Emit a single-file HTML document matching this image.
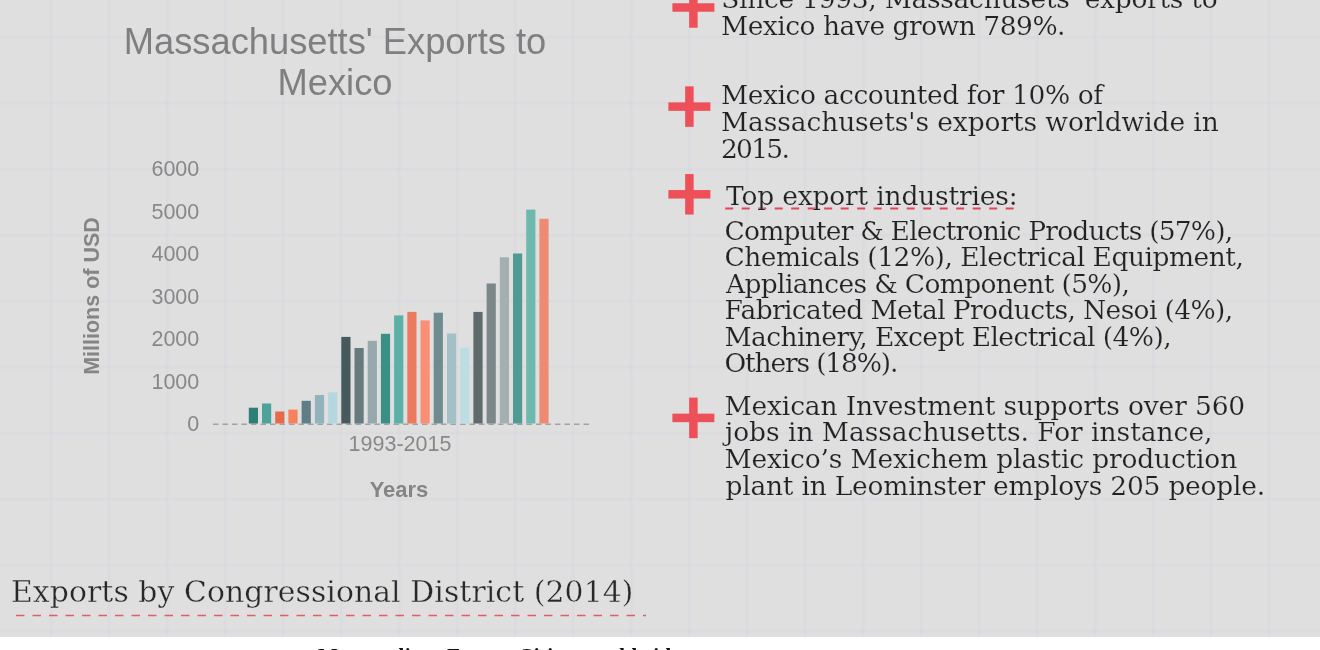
<!DOCTYPE html>
<html><head><meta charset="utf-8"><title>Massachusetts' Exports to Mexico</title>
<style>
html,body{margin:0;padding:0;}
body{width:1320px;height:650px;overflow:hidden;background:#fff;position:relative;font-family:"Liberation Sans",sans-serif;}
#bg{position:absolute;left:0;top:0;width:1320px;height:636.5px;background-color:#dfdfe0;
 background-image:linear-gradient(to right,rgba(200,200,222,0) 0,rgba(200,200,222,0.2) 1.5px,rgba(200,200,222,0.2) 2.5px,rgba(200,200,222,0) 4px,transparent 4px),linear-gradient(to bottom,rgba(200,200,222,0) 0,rgba(200,200,222,0.2) 1.5px,rgba(200,200,222,0.2) 2.5px,rgba(200,200,222,0) 4px,transparent 4px);
 background-size:58px 66px;background-position:49.25px 35.2px;}
svg{position:absolute;left:0;top:0;}
.ln{position:absolute;white-space:nowrap;font-family:"DejaVu Serif","Liberation Serif",serif;font-size:26.5px;line-height:26.5px;color:#222;-webkit-text-stroke:0.2px #dfdfe0;}
.ct{position:absolute;color:#7f7f7f;white-space:nowrap;}
#title{left:85px;width:500px;top:22px;text-align:center;font-size:36.3px;line-height:40.6px;white-space:normal;}
.yl{width:60px;text-align:right;left:139.3px;font-size:21.5px;line-height:24px;color:#888;}
#h2{position:absolute;left:11px;top:574.4px;letter-spacing:0.1px;font-family:"DejaVu Serif","Liberation Serif",serif;font-size:29.8px;line-height:36px;color:#282828;-webkit-text-stroke:0.35px #dfdfe0;white-space:nowrap;}
#foot{position:absolute;left:318px;top:644px;font-family:"Liberation Serif",serif;font-weight:bold;font-size:21px;letter-spacing:0.4px;line-height:24px;color:#111;white-space:nowrap;}
</style></head><body>
<div id="bg"></div>
<svg width="1320" height="650" viewBox="0 0 1320 650">
<line x1="213" y1="424.2" x2="590" y2="424.2" stroke="#a2a2a2" stroke-width="1.6" stroke-dasharray="5.5 4"/>
<rect x="248.8" y="407.7" width="9.2" height="15.8" fill="#2e7f77"/>
<rect x="262.0" y="403.5" width="9.2" height="20.0" fill="#4da39a"/>
<rect x="275.2" y="411.5" width="9.2" height="12.0" fill="#e8694a"/>
<rect x="288.4" y="409.6" width="9.2" height="13.9" fill="#fa7f5c"/>
<rect x="301.6" y="400.8" width="9.2" height="22.7" fill="#5f7d85"/>
<rect x="314.9" y="395.0" width="9.2" height="28.5" fill="#93b3bc"/>
<rect x="328.1" y="392.3" width="9.2" height="31.2" fill="#b5d8e0"/>
<rect x="341.3" y="336.9" width="9.2" height="86.6" fill="#465a5e"/>
<rect x="354.5" y="348.0" width="9.2" height="75.5" fill="#667b7d"/>
<rect x="367.7" y="340.8" width="9.2" height="82.7" fill="#98a8ac"/>
<rect x="380.9" y="333.8" width="9.2" height="89.7" fill="#3a9087"/>
<rect x="394.1" y="315.4" width="9.2" height="108.1" fill="#5cb0a6"/>
<rect x="407.3" y="311.9" width="9.2" height="111.6" fill="#ec7a5e"/>
<rect x="420.5" y="320.4" width="9.2" height="103.1" fill="#fa8f76"/>
<rect x="433.7" y="312.7" width="9.2" height="110.8" fill="#6e8c90"/>
<rect x="447.0" y="333.5" width="9.2" height="90.0" fill="#a3c0c6"/>
<rect x="460.2" y="347.7" width="9.2" height="75.8" fill="#bcdde2"/>
<rect x="473.4" y="311.9" width="9.2" height="111.6" fill="#5e6a6c"/>
<rect x="486.6" y="283.5" width="9.2" height="140.0" fill="#7b8788"/>
<rect x="499.8" y="257.3" width="9.2" height="166.2" fill="#a3afb1"/>
<rect x="513.0" y="253.5" width="9.2" height="170.0" fill="#4f9b94"/>
<rect x="526.2" y="209.6" width="9.2" height="213.9" fill="#6fb8ae"/>
<rect x="539.4" y="218.8" width="9.2" height="204.7" fill="#ef8a72"/>

<rect x="672.4" y="3.25" width="42" height="8.5" fill="#ed5059"/><rect x="689.15" y="-12.75" width="8.5" height="40.5" fill="#ed5059"/>
<rect x="668.4" y="102.35" width="42" height="8.5" fill="#ed5059"/><rect x="685.15" y="86.35" width="8.5" height="40.5" fill="#ed5059"/>
<rect x="668.4" y="190.05" width="42" height="8.5" fill="#ed5059"/><rect x="685.15" y="174.05" width="8.5" height="40.5" fill="#ed5059"/>
<rect x="672.4" y="413.65" width="42" height="8.5" fill="#ed5059"/><rect x="689.15" y="397.65" width="8.5" height="40.5" fill="#ed5059"/>

<line x1="725.2" y1="208.4" x2="1014.5" y2="208.4" stroke="#de4856" stroke-width="2" stroke-dasharray="8 8.5"/>
<line x1="16" y1="615.5" x2="646" y2="615.5" stroke="#e25c68" stroke-width="1.5" stroke-dasharray="8.5 8"/>
</svg>
<div class="ct" id="title">Massachusetts' Exports to Mexico</div>
<div class="ct yl" style="top:157px">6000</div>
<div class="ct yl" style="top:199.5px">5000</div>
<div class="ct yl" style="top:242px">4000</div>
<div class="ct yl" style="top:284.5px">3000</div>
<div class="ct yl" style="top:327px">2000</div>
<div class="ct yl" style="top:369.5px">1000</div>
<div class="ct yl" style="top:412px">0</div>
<div class="ct" style="left:300px;width:200px;text-align:center;top:431.6px;font-size:21.5px;line-height:24px;color:#888">1993-2015</div>
<div class="ct" style="left:300px;width:198px;text-align:center;top:477.6px;font-size:22px;line-height:24px;font-weight:bold;color:#858585">Years</div>
<div class="ct" id="ytitle" style="left:-8px;top:284px;width:200px;text-align:center;font-size:21.5px;line-height:24px;font-weight:bold;color:#858585;transform:rotate(-90deg);">Millions of USD</div>
<div class="ln" id="l0" style="left:721.20px;top:-13.6px;letter-spacing:-0.290px">Since 1993, Massachusets' exports to</div>
<div class="ln" id="l1" style="left:721.00px;top:13.1px;letter-spacing:-0.491px">Mexico have grown 789%.</div>
<div class="ln" id="l2" style="left:721.00px;top:81.8px;letter-spacing:-0.408px">Mexico accounted for 10% of</div>
<div class="ln" id="l3" style="left:721.00px;top:108.9px;letter-spacing:-0.100px">Massachusets's exports worldwide in</div>
<div class="ln" id="l4" style="left:721.00px;top:135.9px;letter-spacing:-1.750px">2015.</div>
<div class="ln" id="l5" style="left:726.00px;top:182.9px;letter-spacing:-0.181px">Top export industries:</div>
<div class="ln" id="l6" style="left:724.50px;top:218.0px;letter-spacing:-0.794px">Computer &amp; Electronic Products (57%),</div>
<div class="ln" id="l7" style="left:724.50px;top:244.4px;letter-spacing:-0.492px">Chemicals (12%), Electrical Equipment,</div>
<div class="ln" id="l8" style="left:726.00px;top:270.7px;letter-spacing:-0.659px">Appliances &amp; Component (5%),</div>
<div class="ln" id="l9" style="left:724.50px;top:296.8px;letter-spacing:-0.627px">Fabricated Metal Products, Nesoi (4%),</div>
<div class="ln" id="l10" style="left:724.50px;top:323.7px;letter-spacing:-0.594px">Machinery, Except Electrical (4%),</div>
<div class="ln" id="l11" style="left:724.50px;top:349.9px;letter-spacing:-1.167px">Others (18%).</div>
<div class="ln" id="l12" style="left:724.50px;top:393.4px;letter-spacing:-0.149px">Mexican Investment supports over 560</div>
<div class="ln" id="l13" style="left:725.00px;top:419.2px;letter-spacing:-0.034px">jobs in Massachusetts. For instance,</div>
<div class="ln" id="l14" style="left:724.50px;top:446.0px;letter-spacing:-0.171px">Mexico’s Mexichem plastic production</div>
<div class="ln" id="l15" style="left:725.50px;top:472.6px;letter-spacing:-0.237px">plant in Leominster employs 205 people.</div>

<div id="h2">Exports by Congressional District (2014)</div>
<div id="foot">Metropolitan Export Cities, worldwide</div>
</body></html>
